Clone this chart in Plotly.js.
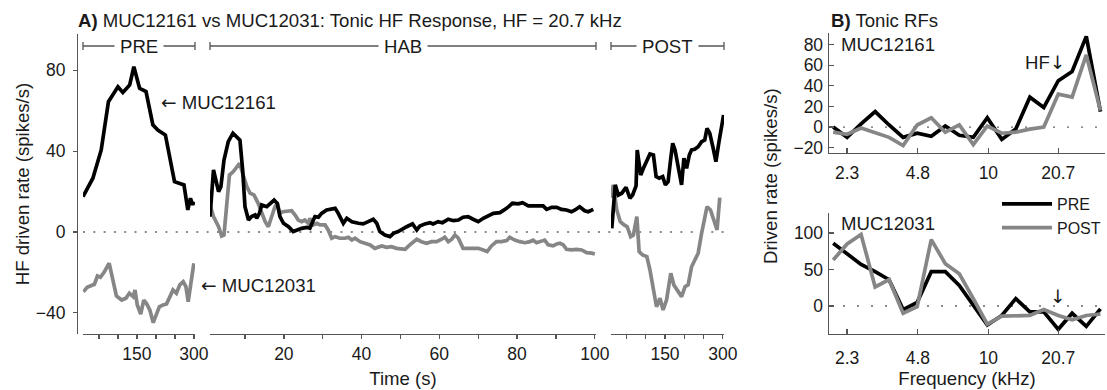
<!DOCTYPE html>
<html><head><meta charset="utf-8">
<script src="https://cdn.plot.ly/plotly-3.0.1.min.js"></script>
<style>html,body{margin:0;padding:0;background:#fff}</style>
</head><body>
<div id="chart" style="width:1107px;height:390px"></div>
<script>
// ---- Panel A: HF driven rate vs time (PRE / HAB / POST) ----
const preTimeA = [8,34,56,75,100,113,131,142,157,174,192,205,225,249,274,284,291,297,300];
const preRateA = [17.5,26.6,40.6,64.5,71.9,69.1,72.8,81.8,71.1,69.5,53,50.5,48,24.9,23.3,10.9,16.7,13.4,15];
const preTimeB = [9,19,38,46,54,63,77,88,96,110,121,130,140,145,151,160,168,175,184,193,202,209,219,228,237,245,254,263,272,279,285,289,300];
const preRateB = [-29.6,-27.4,-25.9,-21.8,-22.4,-20.1,-15.5,-25.4,-31.7,-33.7,-32.8,-30.3,-32,-28.7,-36.1,-40.6,-33.7,-35.3,-38.6,-44.9,-40.3,-37,-36.1,-35.6,-32,-28.7,-30.3,-26.2,-24.6,-27,-34.5,-28.7,-15.5];

const habTimeA = [1,1.9,3.2,3.8,4.6,5.7,6.9,7.9,8.7,9.4,10,10.9,11.7,12.6,13,13.7,14.3,15.6,16.6,17.5,18.3,19,19.9,21.2,22.4,23.3,24.6,25.9,26.7,27.6,28,28.9,29.7,31,32.3,33.2,34,35.3,36.2,37.5,39.2,40.4,41.7,43,43.9,44.7,46,47.3,48.2,49.4,51.6,53.1,54.2,55,56.3,57.6,58.4,59.7,60.8,62.3,63.6,64.9,66.1,67.4,68.7,70,71.3,72.6,73.9,75.6,77.3,78.8,80.3,81.4,82.9,84.1,85.4,86.7,87.6,88.9,90.2,91.4,92.7,94,94.9,96.1,97.4,98.3,99.6];
const habRateA = [7.6,30.7,20,22.4,35.6,44.7,48.9,47.2,45.5,30.7,12.5,5.9,7.6,8.4,6.8,9.2,13.4,12.5,14.5,15.8,14.2,7.6,4.3,2.6,0.2,1,1.8,2.3,1.8,5.9,7.6,7.3,9.2,10.9,11.2,11.7,9.2,4.3,6.8,5.1,4.3,4,5.1,6.3,4.3,0.2,-1.5,-2.3,-0.7,0.2,2.6,4,1,3,4,4.6,4,5.1,4.6,6.3,5.6,5.9,7.3,7.6,6.3,5.1,6.8,7.9,9.2,9.6,11.7,14.2,13.9,14.5,12.9,12.9,12.9,12.9,11.2,12.2,12.2,11.2,10.9,10,10.9,12.5,10.5,10,11.2];
const habTimeB = [1,1.9,3.2,4,4.6,5.3,6,7,8,8.6,9.4,10.5,11.3,12.3,13.4,14.3,15.2,16,16.9,17.7,18.3,19,19.7,20.9,22,22.9,23.7,24.6,25.4,26.3,26.7,27.6,28.5,29.3,30.6,31.4,32.3,33.2,34.4,35.7,36.6,37.5,38.3,39.6,40.9,42.2,43.4,44.3,45.2,46.4,47.7,49,50.3,51.2,52.4,54.2,55.4,56.7,58,59.3,60.6,61.4,62.3,63.2,64,64.9,66.1,67.4,68.7,70,71.3,72.3,73.4,74.7,76,77.3,78.1,79.4,80.7,82,83.3,84.1,85,86.3,87.1,88,89.3,90.2,91,91.9,92.7,94,95.3,96.6,97.9,99.2,100];
const habRateB = [13.4,7.6,2.6,-2,-1.5,14.2,28.2,29.9,32.3,34,29.1,22.4,19.2,18.3,14.2,9.2,5.1,2.6,7.6,12.5,14.2,9.2,10,10.5,10.5,8.4,5.9,5.1,5.9,4.3,6.8,3.5,4.3,3.5,3.5,1,-3.1,-2.3,-3.1,-3.1,-2.6,-4,-3.1,-4.8,-5.6,-6.4,-8.1,-7.3,-6.9,-7.6,-7.3,-8.1,-8.6,-8.6,-6.4,-3.6,-4.8,-5.6,-4.8,-4.8,-3.6,-2.6,-4.8,-3.6,-1.5,-3.1,-8.1,-8.1,-8.1,-8.1,-8.9,-9.7,-6.9,-4.8,-4.8,-4.3,-2.6,-4,-4.8,-5.3,-4.8,-4,-5.3,-4.3,-4,-6.4,-6.9,-5.9,-5.6,-6.4,-8.6,-8.9,-8.6,-8.9,-10.2,-10.5,-10.9];

const postTimeA = [12,21,29,38,49,59,66,75,78,87,94,103,111,120,127,135,144,151,158,165,170,176,184,193,199,206,213,219,227,236,245,253,259,266,275,282,290,298,302];
const postRateA = [1.8,23.3,18.3,19.2,22.1,16.7,18.3,22.8,40.6,28.2,31.5,34.8,38.6,38.1,27.4,26.6,27.4,23.3,24.9,36.5,43.9,40.6,32.3,23.3,36.5,31.5,38.1,40.6,40.9,42.2,44.7,45.5,51.3,48.9,41.4,34.8,44.7,52.1,57.9];
const postTimeB = [10,16,25,34,44,52,61,68,77,83,92,103,111,120,128,137,145,154,165,173,184,193,202,210,219,227,236,245,253,259,268,276,285,292];
const postRateB = [17,23.3,10.9,5.1,3.5,2.6,-2.3,-1.5,7.6,-9.7,-11.4,-12.2,-18.8,-28.7,-37,-32.8,-38.6,-33.7,-20.4,-26.2,-29.6,-32,-27.1,-26.2,-17.2,-13.9,-10.5,-0.6,5.9,12.5,10.9,5.9,1,17];

const segTicks = [50,100,150,200,250,300];
const segTickText = ['','','150','','','300'];
const habTicks = [10,20,30,40,50,60,70,80,90,100];
const habTickText = ['','20','','40','','60','','80','','100'];
const rateTicksA = [-40,0,40,80];

// ---- Panel B: tonic receptive fields ----
const freqKHz = [1.99,2.3,2.66,3.08,3.56,4.12,4.77,5.52,6.39,7.39,8.55,9.89,11.5,13.3,15.4,17.8,20.7,23.9,27.7,32.1];
const rf12161Pre  = [0,-10,3,15,2,-10,-6,-9,1,-8,-10,9,-12,-2,29,19,45,54,88,15];
const rf12161Post = [-5,-7,-1,-6,-10,-18,2,9,-5,2,-17,1,-6,-5,-2,0,32,29,70,16];
const rf12031Pre  = [86,72,57,47,36,-5,5,47,47,28,1,-26,-13,10,-8,-8,-32,-10,-28,-4];
const rf12031Post = [63,85,98,26,36,-10,-1,91,58,44,10,-25,-14,-13,-13,-5,-13,-19,-13,-11];
const freqTicks = [2.3,4.8,10,20.7];
const freqTickText = ['2.3','4.8','10','20.7'];

const W = 1107, H = 390;
const px = x => x / W, py = y => 1 - y / H;
const FONT = 'Liberation Sans, Arial, sans-serif';
const ARROWFONT = 'DejaVu Sans';
const BLACK = '#000000', GREY = '#868686', AX = '#555555';
const LW = 3.7;
const arrowL = '<span style="font-family:' + ARROWFONT + '">\u2190</span>';
const arrowD = '<span style="font-family:' + ARROWFONT + '">\u2193</span>';

function line(x, y, xa, ya, color, name, show) {
  return {x: x, y: y, xaxis: xa, yaxis: ya, type: 'scatter', mode: 'lines',
    line: {color: color, width: LW}, name: name, showlegend: !!show, hoverinfo: 'skip'};
}

const data = [
  line(preTimeB, preRateB, 'x', 'y', GREY, 'MUC12031 PRE'),
  line(preTimeA, preRateA, 'x', 'y', BLACK, 'MUC12161 PRE'),
  line(habTimeB, habRateB, 'x2', 'y', GREY, 'MUC12031 HAB'),
  line(habTimeA, habRateA, 'x2', 'y', BLACK, 'MUC12161 HAB'),
  line(postTimeB, postRateB, 'x3', 'y', GREY, 'MUC12031 POST'),
  line(postTimeA, postRateA, 'x3', 'y', BLACK, 'MUC12161 POST'),
  line(freqKHz, rf12161Pre, 'x4', 'y2', BLACK, 'PRE', true),
  line(freqKHz, rf12161Post, 'x4', 'y2', GREY, 'POST', true),
  line(freqKHz, rf12031Pre, 'x5', 'y3', BLACK, 'PRE'),
  line(freqKHz, rf12031Post, 'x5', 'y3', GREY, 'POST')
];

const tickFont = {family: FONT, size: 17.5, color: '#1a1a1a'};
function segAxis(domain, range, vals, text, extra) {
  return Object.assign({
    domain: domain, range: range, anchor: 'y', tickmode: 'array', tickvals: vals, ticktext: text,
    ticks: 'outside', ticklen: 4, tickwidth: 1.3, tickcolor: AX, showline: true, linecolor: AX, linewidth: 1.4,
    showgrid: false, zeroline: false, tickfont: tickFont, ticklabelstandoff: 0, fixedrange: true
  }, extra || {});
}
function rfX(anchor, standoff, extra) {
  return Object.assign({
    domain: [px(829), px(1105)], type: 'log', range: [0.28, 1.527], anchor: anchor,
    tickmode: 'array', tickvals: freqTicks, ticktext: freqTickText,
    ticks: 'inside', ticklen: 5, tickwidth: 1.3, tickcolor: AX, showline: true, linecolor: AX, linewidth: 1.4,
    showgrid: false, zeroline: false, tickfont: tickFont, ticklabelstandoff: standoff
  }, extra || {});
}
function rfY(domain, range, vals, anchor) {
  return {domain: domain, range: range, anchor: anchor, tickmode: 'array', tickvals: vals,
    ticks: 'inside', ticklen: 5, tickwidth: 1.3, tickcolor: AX, showline: true, linecolor: AX, linewidth: 1.4,
    showgrid: false, zeroline: false, tickfont: tickFont, ticklabelstandoff: 1};
}

const dotA = '2px,8.3px', dotB = '2px,12px';
const shapes = [
  {type: 'line', xref: 'paper', yref: 'y', x0: px(83), x1: px(730), y0: 0, y1: 0, layer: 'below', line: {color: '#666', width: 1.3, dash: dotA}},
  {type: 'line', xref: 'x4 domain', yref: 'y2', x0: 0, x1: 1, y0: 0, y1: 0, layer: 'below', line: {color: '#666', width: 1.3, dash: dotB}},
  {type: 'line', xref: 'x5 domain', yref: 'y3', x0: 0, x1: 1, y0: 0, y1: 0, layer: 'below', line: {color: '#666', width: 1.3, dash: dotB}}
];
// period brackets above panel A
[['x', 'PRE'], ['x2', 'HAB'], ['x3', 'POST']].forEach(function (b) {
  const xr = b[0] + ' domain';
  shapes.push({type: 'line', xref: xr, yref: 'paper', x0: 0, x1: 1, y0: py(46), y1: py(46), line: {color: AX, width: 1.3}});
  shapes.push({type: 'line', xref: xr, yref: 'paper', x0: 0, x1: 0, y0: py(42), y1: py(50), line: {color: AX, width: 1.3}});
  shapes.push({type: 'line', xref: xr, yref: 'paper', x0: 1, x1: 1, y0: py(42), y1: py(50), line: {color: AX, width: 1.3}});
});

const tf = {family: FONT, size: 18.6, color: '#1a1a1a'};
function ann(text, x, y, xanchor, extra) {
  return Object.assign({text: text, xref: 'paper', yref: 'paper', x: px(x), y: py(y), xanchor: xanchor, yanchor: 'middle',
    showarrow: false, font: tf}, extra || {});
}
const annotations = [
  ann('<b>A)</b> MUC12161 vs MUC12031: Tonic HF Response, HF = 20.7 kHz', 76, 20, 'left'),
  ann('<b>B)</b> Tonic RFs', 829, 20, 'left'),
  ann(arrowL + ' MUC12161', 159, 103, 'left'),
  ann(arrowL + ' MUC12031', 199, 285, 'left'),
  ann('PRE', 139, 46, 'center', {bgcolor: '#fff', borderpad: 5}),
  ann('HAB', 403, 46, 'center', {bgcolor: '#fff', borderpad: 5}),
  ann('POST', 667.5, 46, 'center', {bgcolor: '#fff', borderpad: 5}),
  ann('MUC12161', 839, 44, 'left'),
  ann('HF' + arrowD, 1045, 63, 'center'),
  ann('MUC12031', 839, 224, 'left'),
  ann(arrowD, 1058, 296, 'center'),
  ann('Driven rate (spikes/s)', 771, 176, 'center', {textangle: -90})
];

const layout = {
  width: W, height: H, margin: {l: 0, r: 0, t: 0, b: 0, pad: 0},
  paper_bgcolor: '#fff', plot_bgcolor: 'rgba(0,0,0,0)',
  font: {family: FONT, color: '#1a1a1a'},
  showlegend: true,
  legend: {x: px(997), y: py(187), xanchor: 'left', yanchor: 'top', bgcolor: 'rgba(0,0,0,0)',
    font: {family: FONT, size: 16, color: '#1a1a1a'}, tracegroupgap: 0, itemwidth: 50},
  xaxis: segAxis([px(83), px(195)], [8, 303], segTicks, segTickText),
  xaxis2: segAxis([px(210), px(596)], [1, 100.3], habTicks, habTickText,
    {title: {text: 'Time (s)', font: tf, standoff: 8}}),
  xaxis3: segAxis([px(611), px(724)], [10, 303], segTicks, segTickText),
  yaxis: {domain: [py(334), py(34)], range: [-50.5, 98], anchor: 'free', position: px(77),
    tickmode: 'array', tickvals: rateTicksA, ticks: 'outside', ticklen: 4, tickwidth: 1.3, tickcolor: AX,
    showline: true, linecolor: AX, linewidth: 1.4, showgrid: false, zeroline: false, tickfont: tickFont,
    ticklabelstandoff: 4, title: {text: 'HF driven rate (spikes/s)', font: tf, standoff: 0}},
  xaxis4: rfX('y2', 4),
  xaxis5: rfX('y3', 8, {title: {text: 'Frequency (kHz)', font: tf, standoff: 0}}),
  yaxis2: rfY([py(153), py(33)], [-25.2, 91.3], [-20, 0, 20, 40, 60, 80], 'x4'),
  yaxis3: rfY([py(334), py(213)], [-38.4, 127.4], [0, 50, 100], 'x5'),
  shapes: shapes,
  annotations: annotations
};

Plotly.newPlot('chart', data, layout, {staticPlot: true, displayModeBar: false});
</script>
</body></html>
